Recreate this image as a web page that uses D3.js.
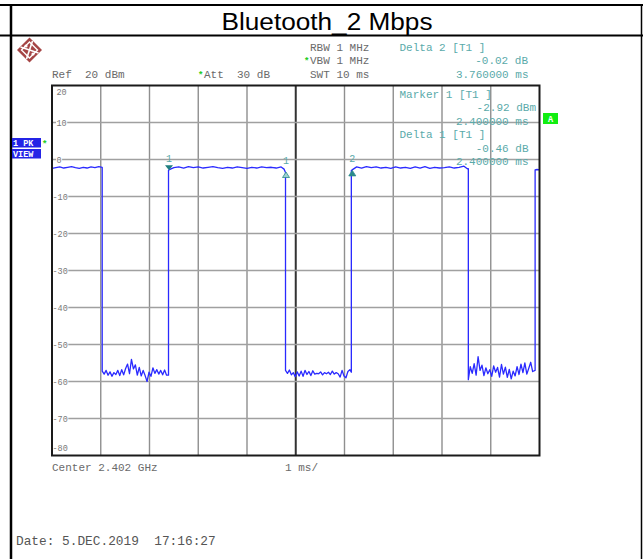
<!DOCTYPE html>
<html>
<head>
<meta charset="utf-8">
<script src="https://cdn.jsdelivr.net/npm/d3@7"></script>
<style>
  html, body { margin: 0; padding: 0; background: #fff; }
  svg { display: block; }
</style>
</head>
<body>
<svg id="chart" width="643" height="559"></svg>
<script>
// ---------------- DATA ----------------
const chartTitle = "Bluetooth_2 Mbps";
const xTicks = [0, 1, 2, 3, 4, 5, 6, 7, 8, 9, 10];          // ms (1 ms/div)
const yTicks = [20, 10, 0, -10, -20, -30, -40, -50, -60, -70, -80]; // dBm
const yTickLabels = ["20", "10", "0", "-10", "-20", "-30", "-40", "-50", "-60", "-70", "-80"];

const traceTime = [
  0, 0.08, 0.16, 0.24, 0.32, 0.40, 0.48, 0.56, 0.64, 0.72, 0.80, 0.88, 0.96, 1.03,
  1.03, 1.07, 1.11, 1.15, 1.19, 1.23, 1.27, 1.31, 1.35, 1.39, 1.43, 1.47, 1.51, 1.55, 1.59, 1.63,
  1.67, 1.71, 1.75, 1.79, 1.83, 1.87, 1.91, 1.95, 1.99, 2.03, 2.07, 2.11, 2.15, 2.19, 2.23, 2.27,
  2.31, 2.35, 2.39,
  2.39, 2.43, 2.5, 2.6, 2.7, 2.8, 2.9, 3.0, 3.1, 3.2, 3.3, 3.4, 3.5, 3.6, 3.7, 3.8, 3.9, 4.0,
  4.1, 4.2, 4.3, 4.4, 4.5, 4.6, 4.7, 4.76, 4.79,
  4.79, 4.83, 4.87, 4.91, 4.95, 4.99, 5.03, 5.07, 5.11, 5.15, 5.19, 5.23, 5.27, 5.31, 5.35, 5.39,
  5.43, 5.47, 5.51, 5.55, 5.59, 5.63, 5.67, 5.71, 5.75, 5.79, 5.83, 5.87, 5.91, 5.95, 5.99, 6.03,
  6.07, 6.11, 6.14,
  6.14, 6.18, 6.25, 6.35, 6.45, 6.55, 6.65, 6.75, 6.85, 6.95, 7.05, 7.15, 7.25, 7.35, 7.45, 7.55,
  7.65, 7.75, 7.85, 7.95, 8.05, 8.15, 8.25, 8.35, 8.45, 8.52, 8.54,
  8.54, 8.58, 8.62, 8.66, 8.70, 8.74, 8.78, 8.82, 8.86, 8.90, 8.94, 8.98, 9.02, 9.06, 9.10, 9.14,
  9.18, 9.22, 9.26, 9.30, 9.34, 9.38, 9.42, 9.46, 9.50, 9.54, 9.58, 9.62, 9.66, 9.70, 9.74, 9.78,
  9.82, 9.86, 9.91,
  9.91, 9.95, 10
];
const traceLevel = [
  -2.4, -2.2, -2.0, -2.3, -2.1, -1.9, -2.2, -2.4, -2.1, -2.3, -2.0, -2.2, -1.9, -2.1,
  -57.2, -58.0, -57.0, -58.3, -57.4, -58.6, -57.6, -58.1, -57.0, -58.4, -56.8, -58.2, -56.5, -55.3, -57.9, -54.0,
  -56.6, -55.5, -58.3, -56.2, -58.5, -57.0, -58.4, -60.0, -57.5, -58.6, -56.3, -57.8, -56.8, -58.0, -57.0, -58.2,
  -56.9, -58.3, -58.3,
  -2.9, -2.6, -2.2, -2.0, -2.3, -1.9, -2.2, -2.0, -2.3, -2.1, -1.9, -2.2, -2.4, -2.1, -2.3, -2.0, -2.2, -2.4,
  -2.1, -2.3, -2.0, -2.2, -2.1, -2.3, -2.0, -2.6, -3.5,
  -57.0, -57.8, -56.9, -58.2, -57.6, -58.7, -57.4, -58.5, -57.2, -58.6, -57.0, -58.1, -57.3, -58.4, -57.1, -58.0,
  -57.8, -57.9, -57.4, -58.2, -57.6, -57.9, -57.5, -58.1, -57.2, -58.0, -57.6, -57.9, -58.8, -57.0, -58.5, -59.0,
  -57.3, -56.8, -57.5,
  -3.0, -2.6, -2.0, -2.3, -1.9, -2.2, -2.0, -2.3, -2.1, -2.4, -2.0, -2.3, -2.1, -2.4, -2.0, -2.3,
  -1.9, -2.4, -2.1, -2.3, -2.2, -2.0, -2.3, -2.1, -1.8, -2.5, -2.5,
  -59.5, -56.0, -57.8, -55.2, -58.3, -53.3, -57.0, -55.6, -58.4, -56.3, -57.9, -56.8, -58.6, -55.8, -57.5, -56.2,
  -58.8, -55.4, -58.0, -56.1, -58.9, -56.7, -59.3, -57.2, -58.5, -56.0, -58.1, -55.3, -57.6, -55.0, -58.0, -56.4,
  -54.8, -57.3, -57.0,
  -2.8, -2.7, -2.8
];

const markerTime  = [2.4, 4.8, 6.16];
const markerLevel = [-2.92, -3.38, -2.94];
const markerLabel = ["1", "1", "2"];
const markerKind  = ["marker", "delta-open", "delta"];

const headerLines = [
  ["RBW 1 MHz", "VBW 1 MHz", "SWT 10 ms"],
];
const deltaInfoTop = ["Delta 2 [T1 ]", "-0.02 dB", "3.760000 ms"];
const markerInfo = ["Marker 1 [T1 ]", "-2.92 dBm", "2.400000 ms", "Delta 1 [T1 ]", "-0.46 dB", "2.400000 ms"];

// ---------------- DRAW ----------------
const svg = d3.select("#chart");
const mono = "'Liberation Mono', 'Courier New', monospace";
const grayText = "#6a6a6a";
const teal = "#5aaaaa";

// outer table frame
svg.append("rect").attr("x", 0).attr("y", 0).attr("width", 643).attr("height", 559).attr("fill", "#fff");
svg.append("line").attr("x1", 0).attr("x2", 643).attr("y1", 5).attr("y2", 5).attr("stroke", "#000").attr("stroke-width", 2);
svg.append("line").attr("x1", 0).attr("x2", 643).attr("y1", 35.5).attr("y2", 35.5).attr("stroke", "#000").attr("stroke-width", 2);
svg.append("line").attr("x1", 11).attr("x2", 11).attr("y1", 4).attr("y2", 559).attr("stroke", "#000").attr("stroke-width", 2.5);
svg.append("line").attr("x1", 641.5).attr("x2", 641.5).attr("y1", 4).attr("y2", 559).attr("stroke", "#000").attr("stroke-width", 1.5);

svg.append("text").attr("x", 327).attr("y", 30).attr("text-anchor", "middle")
  .attr("font-family", "'Liberation Sans', Arial, sans-serif").attr("font-size", 23.5)
  .attr("textLength", 211).attr("lengthAdjust", "spacingAndGlyphs")
  .attr("fill", "#000").text(chartTitle);

// R&S logo
const logo = svg.append("g").attr("transform", "translate(29.5,50)");
logo.append("path").attr("d", "M0,-12.5 L12.5,0 L0,12.5 L-12.5,0 Z").attr("fill", "#a54545");
logo.append("path").attr("d", "M0,-8 L8,0 L0,8 L-8,0 Z").attr("fill", "none").attr("stroke", "#fff").attr("stroke-width", 1.4);
logo.append("line").attr("x1", -9).attr("y1", -3).attr("x2", 9).attr("y2", 3).attr("stroke", "#fff").attr("stroke-width", 1.6);
logo.append("line").attr("x1", -3).attr("y1", 9).attr("x2", 3).attr("y2", -9).attr("stroke", "#fff").attr("stroke-width", 1.6);
logo.append("circle").attr("cx", -3.5).attr("cy", -4).attr("r", 1.6).attr("fill", "#fff");
logo.append("circle").attr("cx", 3.5).attr("cy", 4).attr("r", 1.6).attr("fill", "#fff");

// header texts
function txt(x, y, s, opts = {}) {
  return svg.append("text").attr("x", x).attr("y", y)
    .attr("font-family", mono).attr("font-size", opts.size || 11)
    .attr("fill", opts.fill || grayText)
    .attr("text-anchor", opts.anchor || "start")
    .style("white-space", "pre")
    .text(s);
}
txt(310, 51, headerLines[0][0]);
txt(310, 64, headerLines[0][1]);
txt(310, 78, headerLines[0][2]);
txt(52, 78, "Ref  20 dBm");
txt(204, 78, "Att  30 dB");
// green stars
function star(x, y) {
  svg.append("text").attr("x", x).attr("y", y).attr("font-family", mono).attr("font-size", 9)
    .attr("fill", "#22cc22").attr("font-weight", "bold").text("*");
}
star(304, 64);
star(198, 78);
star(42, 147);

txt(399.5, 51, deltaInfoTop[0], { fill: teal });
txt(528, 64, deltaInfoTop[1], { fill: teal, anchor: "end" });
txt(528.5, 78, deltaInfoTop[2], { fill: teal, anchor: "end" });

// 1 PK / VIEW tags
svg.append("rect").attr("x", 12).attr("y", 138).attr("width", 29).attr("height", 9.5).attr("fill", "#2424e6");
svg.append("rect").attr("x", 12).attr("y", 149).attr("width", 29).attr("height", 9.5).attr("fill", "#2424e6");
svg.append("text").attr("x", 13).attr("y", 146).attr("font-family", mono).attr("font-size", 8.5)
  .attr("font-weight", "bold").attr("fill", "#fff").style("white-space", "pre").text("1 PK");
svg.append("text").attr("x", 13).attr("y", 157).attr("font-family", mono).attr("font-size", 8.5)
  .attr("font-weight", "bold").attr("fill", "#fff").text("VIEW");

// "A" tag
svg.append("rect").attr("x", 543).attr("y", 113).attr("width", 15).attr("height", 11).attr("fill", "#11ee11");
svg.append("text").attr("x", 550.5).attr("y", 122).attr("text-anchor", "middle").attr("font-family", mono)
  .attr("font-size", 8.5).attr("font-weight", "bold").attr("fill", "#fff").text("A");

// plot area
const x = d3.scaleLinear().domain([0, 10]).range([52, 539.5]);
const y = d3.scaleLinear().domain([-80, 20]).range([455.5, 85.5]);

const grid = svg.append("g");
grid.selectAll("line.v").data(xTicks.slice(1, -1)).join("line")
  .attr("x1", d => x(d)).attr("x2", d => x(d)).attr("y1", y(20)).attr("y2", y(-80))
  .attr("stroke", d => d === 5 ? "#333" : "#8f8f8f").attr("stroke-width", d => d === 5 ? 2 : 1.4);
grid.selectAll("line.h").data(yTicks.slice(1, -1)).join("line")
  .attr("x1", x(0)).attr("x2", x(10)).attr("y1", d => y(d)).attr("y2", d => y(d))
  .attr("stroke", "#a0a0a0").attr("stroke-width", 1.4);

// y labels (on white patches)
const ylab = svg.append("g");
yTicks.forEach((t, i) => {
  let yy = y(t);
  let base;
  if (t === 20) base = yy + 9.5;
  else if (t === -80) base = yy - 5;
  else base = yy + 3;
  const lab = yTickLabels[i];
  const w = lab.length * 5.1;
  const x0 = t < 0 ? 52 : 56;
  if (t !== 20 && t !== -80) {
    ylab.append("rect").attr("x", x0).attr("y", yy - 4).attr("width", w + 1).attr("height", 8).attr("fill", "#fff");
  }
  ylab.append("text").attr("x", x0 + 0.5).attr("y", base).attr("font-family", mono).attr("font-size", 8.5)
    .attr("fill", "#7a7a7a").text(lab);
});

// trace
const traceData = traceTime.map((t, i) => [t, traceLevel[i]]);
svg.append("defs").append("clipPath").attr("id", "clip").append("rect")
  .attr("x", x(0)).attr("y", y(20)).attr("width", x(10) - x(0)).attr("height", y(-80) - y(20));
svg.append("path").datum(traceData).attr("clip-path", "url(#clip)")
  .attr("fill", "none").attr("stroke", "#2a2aff").attr("stroke-width", 1.3).attr("stroke-linejoin", "round")
  .attr("d", d3.line().x(d => x(d[0])).y(d => y(d[1])));

// plot border
svg.append("rect").attr("x", x(0)).attr("y", y(20)).attr("width", x(10) - x(0)).attr("height", y(-80) - y(20))
  .attr("fill", "none").attr("stroke", "#1a1a1a").attr("stroke-width", 2);

// markers
markerTime.forEach((t, i) => {
  const mx = x(t), my = y(markerLevel[i]);
  const g = svg.append("g");
  if (markerKind[i] === "marker") {
    g.append("path").attr("d", `M${mx - 4},${my - 5} L${mx + 4},${my - 5} L${mx},${my} Z`).attr("fill", "#1f7f7f");
    g.append("text").attr("x", mx).attr("y", my - 8).attr("text-anchor", "middle").attr("font-family", mono)
      .attr("font-size", 10).attr("fill", teal).text(markerLabel[i]);
  } else {
    const open = markerKind[i] === "delta-open";
    g.append("path").attr("d", `M${mx},${my} L${mx + 3.5},${my + 5.5} L${mx - 3.5},${my + 5.5} Z`)
      .attr("fill", open ? "#9fd0d0" : "#2a8a8a").attr("stroke", "#2a8a8a").attr("stroke-width", 0.8);
    g.append("text").attr("x", mx).attr("y", my - 8).attr("text-anchor", "middle").attr("font-family", mono)
      .attr("font-size", 10).attr("fill", teal).text(markerLabel[i]);
  }
});

// marker info block inside plot
txt(399.5, 97.5, markerInfo[0], { fill: teal });
txt(536, 111, markerInfo[1], { fill: teal, anchor: "end" });
txt(528.5, 125, markerInfo[2], { fill: teal, anchor: "end" });
txt(399.5, 138, markerInfo[3], { fill: teal });
txt(528.5, 151.5, markerInfo[4], { fill: teal, anchor: "end" });
txt(528.5, 165, markerInfo[5], { fill: teal, anchor: "end" });

// bottom texts
txt(52, 471, "Center 2.402 GHz");
txt(285, 471, "1 ms/");
txt(16, 545, "Date: 5.DEC.2019  17:16:27", { size: 12.8, fill: "#555" });
</script>
</body>
</html>
